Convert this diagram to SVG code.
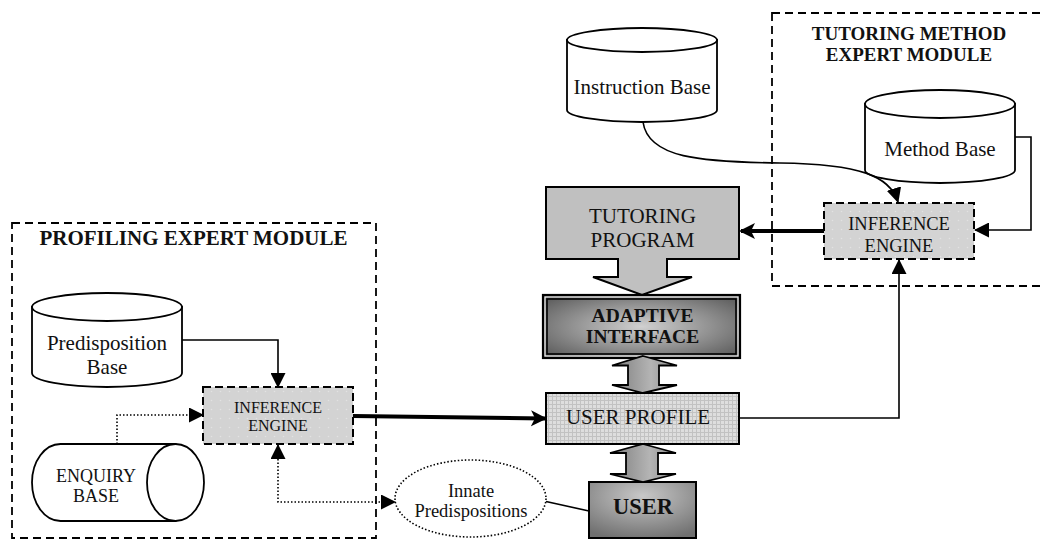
<svg xmlns="http://www.w3.org/2000/svg" width="1040" height="540" viewBox="0 0 1040 540">
<style>
text{font-family:"Liberation Serif","Times New Roman",serif;fill:#111;text-anchor:middle}
.b{font-weight:bold}
.ln{fill:none;stroke:#000;stroke-width:1.6}
.dot{fill:none;stroke:#000;stroke-width:1.6;stroke-dasharray:1.5 2}
.thick{fill:none;stroke:#000;stroke-width:4}
.mod{fill:none;stroke:#000;stroke-width:1.8;stroke-dasharray:8 5}
.cyl{fill:#fff;stroke:#000;stroke-width:1.8}
.ie{stroke:#000;stroke-width:2;stroke-dasharray:8 4}
.blk{fill:url(#ga);stroke:#000;stroke-width:1.8}
</style>
<defs>
<marker id="ah" markerUnits="userSpaceOnUse" markerWidth="15" markerHeight="15" refX="14" refY="7.5" orient="auto-start-reverse"><path d="M0,0 L15,7.5 L0,15 Z" fill="#000"/></marker>
<marker id="ahT" markerUnits="userSpaceOnUse" markerWidth="16" markerHeight="18" refX="14" refY="9" orient="auto"><path d="M0,1 L16,9 L0,17 L4,9 Z" fill="#000"/></marker>
<pattern id="pd" width="9" height="9" patternUnits="userSpaceOnUse"><rect width="9" height="9" fill="#d3d3d3"/><circle cx="4.5" cy="4.5" r="0.8" fill="#e2e2e2"/></pattern>
<pattern id="pg" width="4" height="4" patternUnits="userSpaceOnUse"><rect width="4" height="4" fill="#dedede"/><path d="M0,0.5 H4 M0.5,0 V4" stroke="#c2c2c2" stroke-width="1"/></pattern>
<radialGradient id="gr" cx="50%" cy="50%" r="65%"><stop offset="0" stop-color="#d0d0d0"/><stop offset="1" stop-color="#5c5c5c"/></radialGradient>
<radialGradient id="gu" cx="50%" cy="25%" r="80%"><stop offset="0" stop-color="#c8c8c8"/><stop offset="1" stop-color="#707070"/></radialGradient>
<linearGradient id="ga" x1="0" y1="0" x2="1" y2="0"><stop offset="0" stop-color="#7c7c7c"/><stop offset="0.6" stop-color="#b4b4b4"/><stop offset="1" stop-color="#8a8a8a"/></linearGradient>
</defs>
<rect width="1040" height="540" fill="#fff"/>

<g id="profiling-module">
<rect class="mod" x="12" y="223" width="364" height="315"/>
<text class="b" x="193.5" y="245" font-size="21">PROFILING EXPERT MODULE</text>
</g>
<g id="tutoring-method-module">
<rect class="mod" x="772" y="13" width="290" height="273"/>
<text class="b" x="909" y="39.5" font-size="19">TUTORING METHOD</text>
<text class="b" x="909" y="61" font-size="19">EXPERT MODULE</text>
</g>

<g id="instruction-base">
<path class="cyl" d="M567,40 V110 A75,12 0 0 0 717,110 V40 Z"/>
<ellipse class="cyl" cx="642" cy="40" rx="75" ry="12"/>
<text x="642" y="94" font-size="21">Instruction Base</text>
</g>
<g id="method-base">
<path class="cyl" d="M865,104 V170 A75,13 0 0 0 1015,170 V104 Z"/>
<ellipse class="cyl" cx="940" cy="104" rx="75" ry="14"/>
<text x="940" y="156" font-size="21">Method Base</text>
</g>
<g id="inference-engine-top">
<rect class="ie" x="824" y="203" width="150" height="56" fill="url(#pd)"/>
<text x="899" y="230" font-size="18.5">INFERENCE</text>
<text x="899" y="251.5" font-size="18.5">ENGINE</text>
</g>
<g id="tutoring-program">
<path d="M546,187 H739 V259 H667 V277 H692 L642,295 L593,277 H618 V259 H546 Z" fill="#c0c0c0" stroke="#000" stroke-width="2" stroke-linejoin="miter"/>
<text x="642.5" y="222.5" font-size="21">TUTORING</text>
<text x="642.5" y="246.5" font-size="21">PROGRAM</text>
</g>
<g id="adaptive-interface">
<rect x="543" y="295" width="197" height="63" fill="url(#gr)" stroke="#000" stroke-width="2.2"/>
<rect x="547" y="299" width="189" height="55" fill="none" stroke="#000" stroke-width="1.6"/>
<rect x="545" y="297" width="193" height="59" fill="none" stroke="#fff" stroke-width="1"/>
<text class="b" x="642.5" y="321.5" font-size="19.5">ADAPTIVE</text>
<text class="b" x="642.5" y="342.5" font-size="19.5">INTERFACE</text>
</g>
<g id="user-profile">
<rect x="546" y="393" width="193" height="51" fill="url(#pg)" stroke="#000" stroke-width="2"/>
<text x="638" y="424" font-size="21">USER PROFILE</text>
</g>
<g id="user">
<rect x="589" y="482" width="107" height="56" fill="url(#gu)" stroke="#000" stroke-width="2"/>
<text class="b" x="643" y="514" font-size="22.5">USER</text>
</g>
<g id="predisposition-base">
<path class="cyl" d="M32,307 V373 A75,14 0 0 0 182,373 V307 Z"/>
<ellipse class="cyl" cx="107" cy="307" rx="75" ry="14"/>
<text x="107" y="350" font-size="21">Predisposition</text>
<text x="107" y="374" font-size="21">Base</text>
</g>
<g id="inference-engine-left">
<rect class="ie" x="203" y="387" width="150" height="57" fill="url(#pd)"/>
<text x="278" y="412.5" font-size="16">INFERENCE</text>
<text x="278" y="431" font-size="16">ENGINE</text>
</g>
<g id="enquiry-base">
<path class="cyl" d="M175.5,444 H60.5 A28.5,38.5 0 0 0 60.5,521 H175.5 Z"/>
<ellipse class="cyl" cx="175.5" cy="482.5" rx="28.5" ry="38.5"/>
<text x="96" y="481.5" font-size="18">ENQUIRY</text>
<text x="96" y="501.5" font-size="18">BASE</text>
</g>
<g id="innate-predispositions">
<ellipse cx="470.5" cy="498.5" rx="75.5" ry="38.5" fill="#fff" stroke="#000" stroke-width="1.6" stroke-dasharray="1.5 2"/>
<text x="471" y="496.5" font-size="18.5">Innate</text>
<text x="471" y="516.5" font-size="18.5">Predispositions</text>
</g>

<g id="connectors">
<path class="ln" d="M643,122 C648,158 700,162 780,163 C860,164 890,176 898,202" marker-end="url(#ah)"/>
<path class="ln" d="M1015,137 H1031 V230 H975" marker-end="url(#ah)"/>
<path class="thick" d="M824,231 H741" marker-end="url(#ahT)"/>
<path class="ln" d="M739,418 H899 V260" marker-end="url(#ah)"/>
<path class="ln" d="M182,340 H278 V387" marker-end="url(#ah)"/>
<path class="dot" d="M117,444 V415 H203" marker-end="url(#ah)"/>
<path class="dot" d="M278,445 V502 H395" marker-start="url(#ah)" marker-end="url(#ah)"/>
<path class="thick" d="M353,416 L545,418.5" marker-end="url(#ahT)"/>
<path class="ln" d="M546,501.5 L589,511"/>
<path class="blk" d="M643,356 L677,365.5 H659 V385 H677 L643,393 L612,385 H628 V365.5 H612 Z"/>
<path class="blk" d="M643,444 L676,453 H658 V474 H676 L643,482 L610,474 H626 V453 H610 Z"/>
</g>
</svg>
